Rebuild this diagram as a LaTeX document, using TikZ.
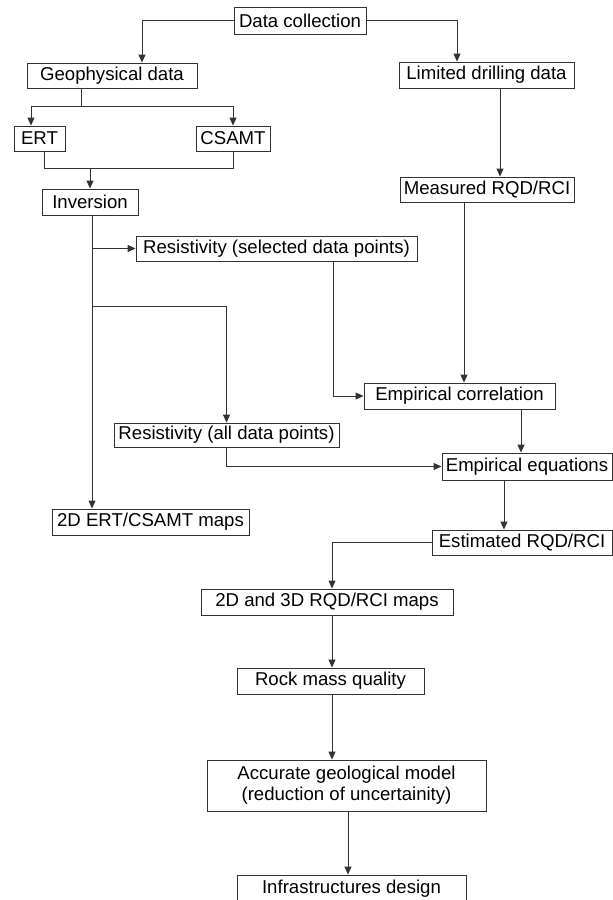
\documentclass[tikz,border=0pt]{standalone}
\usepackage{fontspec}
\setmainfont{Liberation Sans}
\usetikzlibrary{arrows.meta}

\tikzset{
  box/.style={draw=black!80, line width=0.9pt, inner sep=0pt, align=center,
              font=\fontsize{18.6}{21}\selectfont},
  arr/.style={-{Triangle[length=8pt,width=7pt]}},
}

\begin{document}
\begin{tikzpicture}[x=1pt,y=-1pt,line width=1pt,draw=black!80]
    \useasboundingbox (0,0) rectangle (613,900);

    \node[box,minimum width=132,minimum height=27] (dc)     at (300,20.5)   {Data collection};
    \node[box,minimum width=170,minimum height=25] (geo)    at (112,75.5)   {Geophysical data};
    \node[box,minimum width=175,minimum height=26] (drill)  at (486.5,75)   {Limited drilling data};
    \node[box,minimum width=51,minimum height=25]  (ert)    at (39.5,138.5) {ERT};
    \node[box,minimum width=74,minimum height=25]  (csamt)  at (233,138.5)  {CSAMT};
    \node[box,minimum width=96,minimum height=26]  (inv)    at (90,202)     {Inversion};
    \node[box,minimum width=174,minimum height=25] (meas)   at (487,189.5)  {Measured RQD/RCI};
    \node[box,minimum width=281,minimum height=25] (ressel) at (276.5,248.5) {Resistivity (selected data points)};
    \node[box,minimum width=191,minimum height=26] (empcor) at (459.5,396)  {Empirical correlation};
    \node[box,minimum width=225,minimum height=24] (resall) at (226.5,435)  {Resistivity (all data points)};
    \node[box,minimum width=170,minimum height=27] (empeq)  at (527,466.5)  {Empirical equations};
    \node[box,minimum width=197,minimum height=26] (ertmap) at (150.5,522)  {2D ERT/CSAMT maps};
    \node[box,minimum width=180,minimum height=25] (est)    at (522,542.5)  {Estimated RQD/RCI};
    \node[box,minimum width=252,minimum height=26] (rqdmap) at (327,602)    {2D and 3D RQD/RCI maps};
    \node[box,minimum width=187,minimum height=26] (rock)   at (330.5,681)  {Rock mass quality};
    \node[box,minimum width=279,minimum height=51] (model)  at (346.5,785.5) {Accurate geological model\\(reduction of uncertainity)};
    \node[box,minimum width=229,minimum height=27] (infra)  at (351.5,888.5) {Infrastructures design};

    % top split
    \draw[arr] (dc.west) -| ([xshift=30]geo.north);
    \draw[arr] (dc.east) -| ([xshift=-29.5]drill.north);

    % geophysical branch
    \draw ([xshift=-31]geo.south) -- ++(0,18) coordinate (gsplit);
    \draw[arr] (gsplit) -| ([xshift=-8.5]ert.north);
    \draw[arr] (gsplit) -| (csamt.north);
    \draw ([xshift=4.5]ert.south) -- ++(0,17) coordinate (join) -| (csamt.south);
    \draw[arr] (inv.north |- join) -- (inv.north);

    % drilling branch
    \draw[arr] ([xshift=13.5]drill.south) -- ([xshift=13]meas.north);
    \draw[arr] ([xshift=-23]meas.south) -- ([xshift=4.5]empcor.north);

    % inversion trunk
    \draw[arr] ([xshift=2]inv.south) -- ([xshift=-58.5]ertmap.north);
    \draw[arr] ([xshift=2]inv.south |- ressel.west) -- (ressel.west);
    \draw[arr] ([xshift=2]inv.south) ++(0,91) -| (resall.north);

    \draw[arr] ([xshift=56.5]ressel.south) |- (empcor.west);
    \draw[arr] ([xshift=61.5]empcor.south) -- ([xshift=-6]empeq.north);
    \draw[arr] (resall.south) |- (empeq.west);
    \draw[arr] ([xshift=-23]empeq.south) -- ([xshift=-18]est.north);

    % lower chain
    \draw[arr] (est.west) -| ([xshift=5]rqdmap.north);
    \draw[arr] ([xshift=5]rqdmap.south) -- ([xshift=1.5]rock.north);
    \draw[arr] ([xshift=1.5]rock.south) -- ([xshift=-14.5]model.north);
    \draw[arr] ([xshift=1.5]model.south) -- ([xshift=-3.5]infra.north);
\end{tikzpicture}
\end{document}
